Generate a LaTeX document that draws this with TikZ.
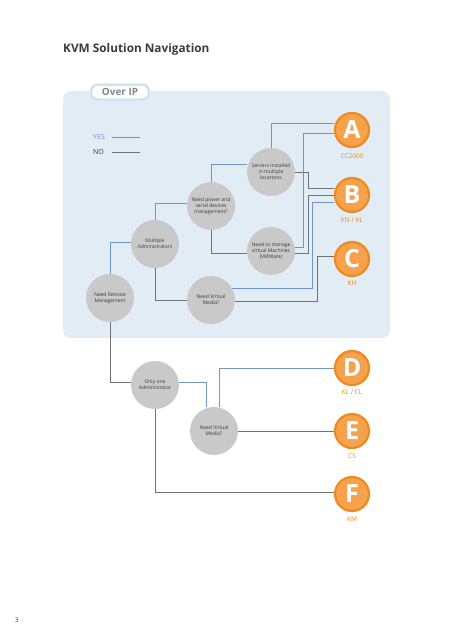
\documentclass[tikz,border=0pt]{standalone}
\usepackage{fontspec}
\setmainfont{Open Sans}
\usetikzlibrary{backgrounds}
\definecolor{panel}{HTML}{E2ECF4}
\definecolor{tabline}{HTML}{D2E2EE}
\definecolor{yescol}{HTML}{7097CC}
\definecolor{nocol}{HTML}{6E7276}
\definecolor{disc}{HTML}{C9C9C9}
\definecolor{orfill}{HTML}{F6A24C}
\definecolor{orring}{HTML}{EF8A22}
\definecolor{txt}{HTML}{3A3A3A}
\tikzset{
  qnode/.style={circle, fill=disc, minimum size=48pt, inner sep=0pt, align=center,
     text=txt, font=\fontsize{5}{5.9}\selectfont},
  prod/.style={circle, fill=orfill, draw=orring, line width=2.2pt, minimum size=34pt, inner sep=0pt,
     text=white, font=\fontsize{25}{25}\selectfont\bfseries},
  plabel/.style={text=orring, font=\fontsize{6.5}{7.5}\selectfont},
  yes/.style={draw=yescol, line width=0.8pt},
  no/.style={draw=nocol, line width=0.8pt},
}
\begin{document}
\begin{tikzpicture}[x=1pt,y=-1pt]
\useasboundingbox (0,0) rectangle (452,640);
% title
\node[anchor=base west, inner sep=0pt, text=txt, font=\fontsize{11.8}{13}\selectfont\bfseries] (title) at (63,52) {KVM Solution Navigation};
\node[anchor=base, inner sep=0pt, text=txt, font=\fontsize{6.5}{7}\selectfont] (pg) at (17,622) {3};
% legend
\node[anchor=west, inner sep=0pt, text=yescol, font=\fontsize{7}{8}\selectfont] (yl) at (93,137) {YES};
\node[anchor=west, inner sep=0pt, text=txt, font=\fontsize{7}{8}\selectfont] (nl) at (93,152) {NO};
\coordinate (ys) at (112,137);
\coordinate (ye) at (140,137);
\coordinate (ns) at (112,152);
\coordinate (ne) at (140,152);
% question nodes
\node[qnode] (nr) at (110,298) {Need Remote\\Management};
\node[qnode] (ma) at (155,244) {Multiple\\Administrators};
\node[qnode] (np) at (211,206) {Need power and\\serial devices\\management?};
\node[qnode] (si) at (271,172) {Servers installed\\in multiple\\locartons};
\node[qnode] (vm) at (271,251) {Need to manage\\virtual Machines\\(VMWare)};
\node[qnode] (vu) at (211,300) {Need Virtual\\Media?};
\node[qnode] (oa) at (155,385) {Only one\\Administrator};
\node[qnode] (vl) at (214,431) {Need Virtual\\Media?};
% products
\node[prod] (A) at (352,130) {A};
\node[prod] (B) at (352,195) {B};
\node[prod] (C) at (352,259) {C};
\node[prod] (D) at (352,368) {D};
\node[prod] (E) at (352,431) {E};
\node[prod] (F) at (352,494) {F};
\node[plabel] (la) at (352,156) {CC2000};
\node[plabel] (lb) at (352,220) {KN / KL};
\node[plabel] (lc) at (352,283) {KH};
\node[plabel] (ld) at (352,392) {KL / CL};
\node[plabel] (le) at (352,456) {CS};
\node[plabel] (lf) at (352,519) {KM};
\begin{scope}[on background layer]
  \fill[panel, rounded corners=8pt] (63,91) rectangle (390,338);
  \node[draw=tabline, line width=2.5pt, fill=white, rounded corners=7pt, minimum width=58pt, minimum height=15pt,
        text=nocol!85, font=\fontsize{10}{11}\selectfont\bfseries] (tab) at (120,92) {Over IP};
  \draw[yes] (ys) -- (ye);
  \draw[no] (ns) -- (ne);
  % connectors
  \draw[yes] (nr.north) |- ([yshift=2pt]ma.west);
  \draw[no] (nr.south) |- ([yshift=3pt]oa.west);
  \draw[yes] (ma.north) |- ([yshift=3pt]np.west);
  \draw[no] (ma.south) |- (vu.west);
  \draw[yes] (np.north) |- ([yshift=8pt]si.west);
  \draw[no] (np.south) |- ([yshift=-2pt]vm.west);
  \draw[yes] (si.north) |- ([yshift=7pt]A.west);
  \draw[no] (si.east) -- ++(13,0) |- ([yshift=7pt]B.west);
  \draw[yes] ([yshift=4pt]vm.east) -- ++(8,0) |- ([yshift=-3pt]A.west);
  \draw[no] ([yshift=-2pt]vm.east) -- ++(13,0) |- (B.west);
  \draw[yes] (vu.30) -- ++(80,0) |- ([yshift=-7pt]B.west);
  \draw[no] ([yshift=-1pt]vu.east) -- ++(82,0) |- ([yshift=3pt]C.west);
  \draw[yes] ([yshift=3pt]oa.east) -| ([xshift=-8pt]vl.north);
  \draw[yes] ([xshift=5pt]vl.north) |- (D.west);
  \draw[no] (vl.east) -- (E.west);
  \draw[no] (oa.south) |- ([yshift=2pt]F.west);
\end{scope}
\end{tikzpicture}
\end{document}
